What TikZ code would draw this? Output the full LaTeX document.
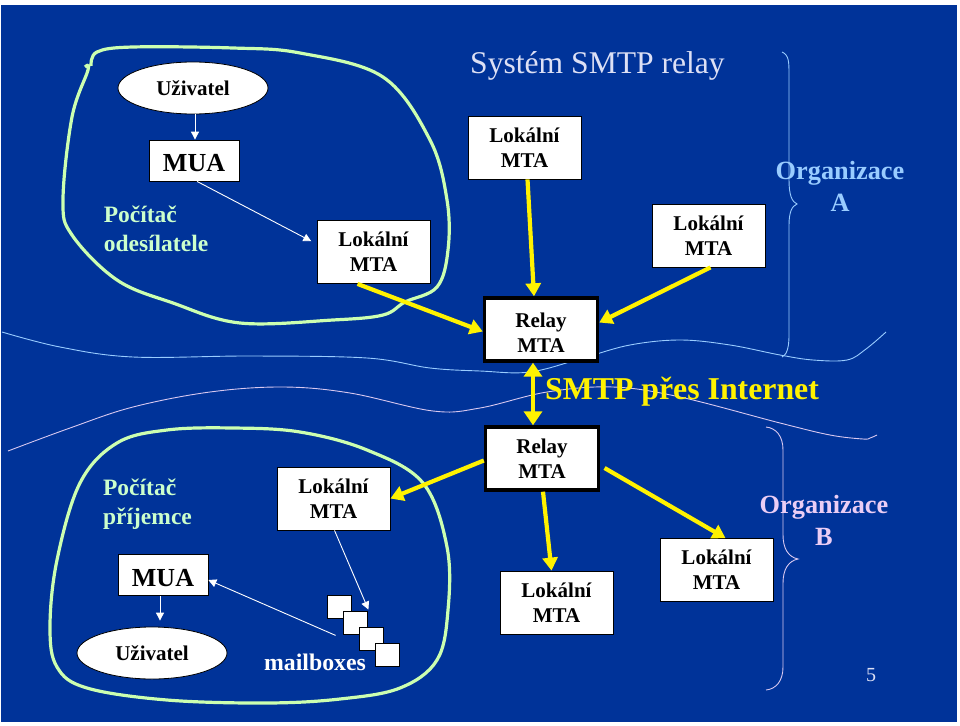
\documentclass[tikz,border=0pt]{standalone}
\usepackage{fontspec}
\setmainfont{Liberation Serif}
\usetikzlibrary{shapes.geometric,arrows.meta}
\definecolor{bg}{HTML}{003399}
\definecolor{blobgreen}{HTML}{CCFFB0}
\definecolor{txtgreen}{HTML}{CCFFCC}
\definecolor{orgA}{HTML}{99CCFF}
\definecolor{orgB}{HTML}{EBCDF5}
\definecolor{titlec}{HTML}{DDE0F5}
\definecolor{waveA}{HTML}{99CCFF}
\definecolor{waveB}{HTML}{D8C8F0}
\newcommand{\fs}[2]{\fontsize{#1}{#2}\selectfont}
\tikzset{
  x=1pt,y=-1pt,
  boxbase/.style={draw=black,fill=white,line width=0.8pt,inner sep=0pt,align=center,font=\bfseries\fs{21}{25}},
  mta/.style={boxbase,minimum width=113pt,minimum height=63pt},
  relay/.style={boxbase,line width=3.4pt,minimum width=113pt,minimum height=63pt},
  mua/.style={boxbase,minimum width=90pt,minimum height=41pt,font=\bfseries\fs{26}{30}},
  user/.style={draw=black,fill=white,line width=0.8pt,ellipse,minimum width=150pt,minimum height=52pt,inner sep=0pt,font=\bfseries\fs{21}{25}},
  mbox/.style={draw=black,fill=white,line width=0.8pt,minimum width=24pt,minimum height=23pt,inner sep=0pt},
  yarrow/.style={draw=yellow,line width=4.2pt,-{Triangle[length=13pt,width=15pt,fill=yellow]}},
  yboth/.style={draw=yellow,line width=4.2pt,{Triangle[length=14pt,width=18pt,fill=yellow]}-{Triangle[length=14pt,width=18pt,fill=yellow]}},
  warrow/.style={draw=white,line width=0.9pt,-{Triangle[length=8pt,width=8pt,fill=white]}},
  blob/.style={draw=blobgreen,line width=3.2pt},
  wave/.style={line width=0.9pt},
  lab/.style={align=center,inner sep=0pt},
}
\begin{document}
\begin{tikzpicture}
\useasboundingbox (0,0) rectangle (960,725);
\fill[white] (0,0) rectangle (960,725);
\fill[bg] (1,5) rectangle (957,722);
% blobs
\draw[blob] plot[smooth,tension=0.6] coordinates {(91,66)(97,52)(133,47)(233,48)(300,53)(383,77)(430,140)(447,200)(448,250)(437,287)(405,302)(383,315)(333,320)(240,323)(173,303)(117,280)(72,235)(63,200)(72,117)(88,70)(85,67)};
\draw[blob] plot[smooth cycle,tension=0.6] coordinates {(233,428)(300,432)(367,450)(423,483)(447,547)(448,610)(437,660)(400,688)(340,699)(267,703)(167,700)(87,688)(57,667)(50,627)(57,560)(80,483)(117,443)(167,430)};
% waves
\draw[waveA,wave] plot[smooth,tension=0.6] coordinates {(2,332)(60,347)(133,357)(250,356)(367,358)(430,368)(480,371)(530,372)(583,358)(630,345)(680,340)(730,345)(780,355)(813,360)(847,360)(866,349)(886,332)};
\draw[waveB,wave] plot[smooth,tension=0.6] coordinates {(8,451)(70,428)(133,407)(210,392)(283,387)(350,393)(433,411)(480,408)(547,392)(613,387)(680,397)(780,423)(830,435)(863,439)(870,438)(877,435)};
% braces
\draw[waveA,wave] (782,52) .. controls (789,55) and (789,62) .. (789,75) -- (789,180) .. controls (789,195) and (792,202) .. (797,204) .. controls (792,206) and (789,212) .. (789,225) -- (789,335) .. controls (789,350) and (786,355) .. (782,357);
\draw[waveB,wave] (766,427) .. controls (776,428) and (783,436) .. (783,450) -- (783,535) .. controls (783,548) and (788,557) .. (798,559) .. controls (788,561) and (783,570) .. (783,583) -- (783,667) .. controls (783,681) and (776,689) .. (766,690);
% nodes
\node[user] (u1) at (193,88) {Uživatel};
\node[mua] (mua1) at (194,160.5) {\rule{0pt}{23pt}MUA};
\node[mta] (l1) at (373.5,252) {Lokální\\MTA};
\node[mta] (l2) at (524.5,147.5) {Lokální\\MTA};
\node[mta] (l3) at (708.5,235.5) {Lokální\\MTA};
\node[relay] (r1) at (541,329.5) {\rule{0pt}{20pt}Relay\\MTA};
\node[relay] (r2) at (542,458.5) {Relay\\MTA};
\node[mta] (l4) at (333.5,498.5) {Lokální\\MTA};
\node[mta] (l5) at (556.5,602.5) {Lokální\\MTA};
\node[mta] (l6) at (716.5,570) {Lokální\\MTA};
\node[mua] (mua2) at (163,575) {\rule{0pt}{23pt}MUA};
\node[user] (u2) at (152,653) {Uživatel};
\node[mbox] (m1) at (339,606.5) {};
\node[mbox] (m2) at (355,622.5) {};
\node[mbox] (m3) at (371,638.5) {};
\node[mbox] (m4) at (387,654.5) {};
% labels
\node[lab,text=titlec,font=\fs{31.6}{36}] (title) at (597.5,66) {Systém SMTP relay};
\node[lab,text=txtgreen,font=\bfseries\fs{23.5}{29}] (pc1) at (156,231) {\begin{tabular}{@{}l@{}}Počítač\\odesílatele\end{tabular}};
\node[lab,text=txtgreen,font=\bfseries\fs{23.5}{29}] (pc2) at (147.5,504) {\begin{tabular}{@{}l@{}}Počítač\\příjemce\end{tabular}};
\node[lab,text=orgA,font=\bfseries\fs{26.3}{32}] (oa) at (840,186) {Organizace\\A};
\node[lab,text=orgB,font=\bfseries\fs{26.3}{32}] (ob) at (824,520.5) {Organizace\\B};
\node[lab,text=yellow,font=\bfseries\fs{31.8}{36}] (smtp) at (682,392) {SMTP přes Internet};
\node[lab,text=white,font=\bfseries\fs{23.8}{28}] (mb) at (315,662) {mailboxes};
\node[lab,text=titlec,font=\fs{20}{24}] (pg) at (871,675) {5};
% connectors
\draw[warrow] ([xshift=2pt]u1.south) -- ([xshift=1pt]mua1.north);
\draw[warrow,shorten >=6pt] ([xshift=3pt]mua1.south) -- ([yshift=8pt]l1.west);
\draw[warrow] ([xshift=1pt]l4.south) -- ([xshift=17pt,yshift=-15pt]m1.north east);
\draw[warrow] ([xshift=-7pt,yshift=-1pt]m2.south west) -- ([yshift=-5pt]mua2.east);
\draw[warrow] ([xshift=-3pt]mua2.south) -- ([xshift=8pt,yshift=6pt]u2.north);
\draw[yarrow] ([xshift=-16pt]l1.south) -- ([yshift=-2pt]r1.west);
\draw[yarrow] ([xshift=3pt]l2.south) -- ([xshift=-7pt]r1.north);
\draw[yarrow] ([xshift=2pt]l3.south) -- ([yshift=7pt]r1.east);
\draw[yboth] ([xshift=-8pt]r1.south) -- ([xshift=-9pt]r2.north);
\draw[yarrow] ([xshift=1pt]r2.south) -- ([xshift=-5pt]l5.north);
\draw[yarrow,shorten <=5pt] ([yshift=-7pt]r2.east) -- ([xshift=9pt]l6.north);
\draw[yarrow] ([yshift=-2pt]r2.west) -- (l4.east);
\end{tikzpicture}
\end{document}
